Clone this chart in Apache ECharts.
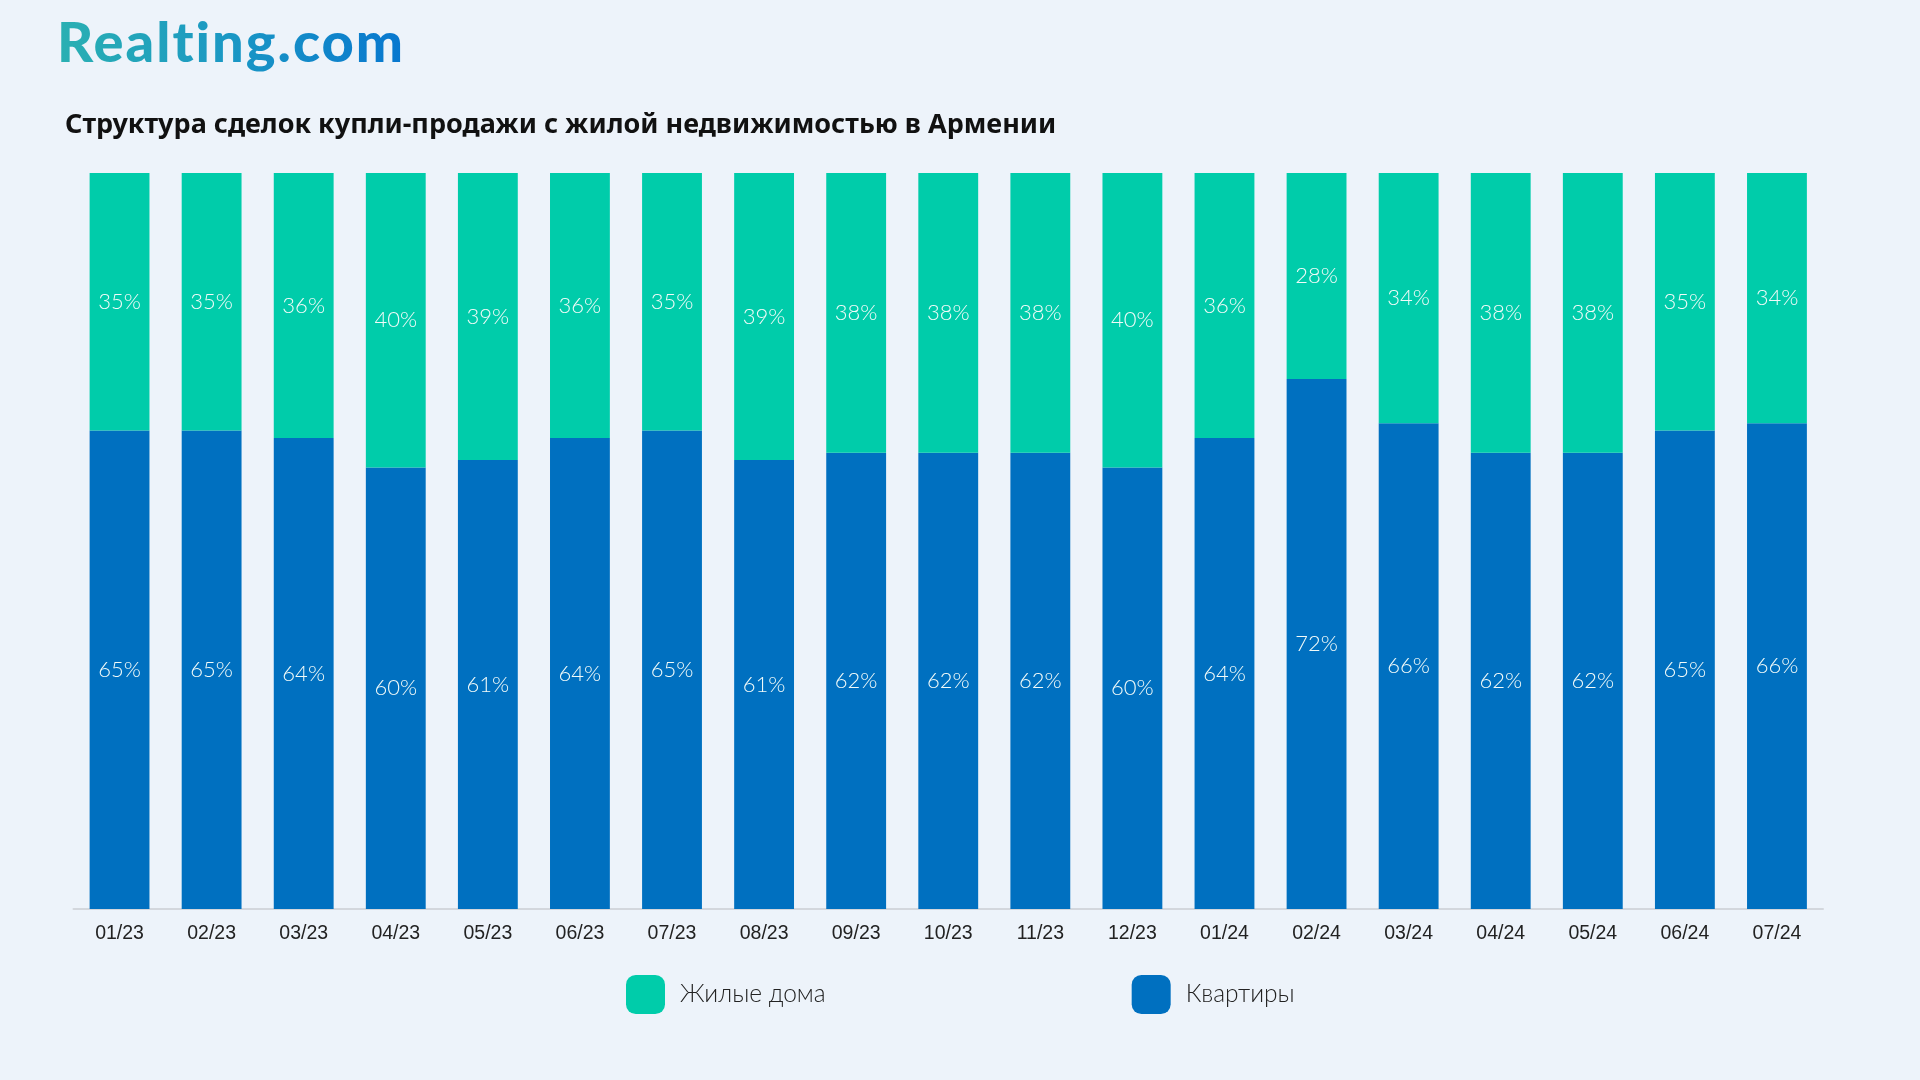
<!DOCTYPE html>
<html>
<head>
<meta charset="utf-8">
<script src="https://cdn.jsdelivr.net/npm/echarts@6/dist/echarts.min.js"></script>
<style>
html,body{margin:0;padding:0;background:#EDF3FA;}
#wrap{position:relative;width:1920px;height:1080px;}
#chart{width:1920px;height:1080px;}
#logo{position:absolute;left:57px;top:7px;font:900 56px Lato, "Noto Sans", sans-serif;letter-spacing:2px;
  background:linear-gradient(90deg,#2AB0B2 0%,#1A97C4 50%,#0877CF 100%);-webkit-background-clip:text;background-clip:text;color:transparent;}
</style>
</head>
<body>
<div id="wrap">
<div id="chart"></div>
<div id="logo">Realting.com</div>
</div>
<script>
const categories = ['01/23','02/23','03/23','04/23','05/23','06/23','07/23','08/23','09/23','10/23','11/23','12/23','01/24','02/24','03/24','04/24','05/24','06/24','07/24'];
const apartments = [65,65,64,60,61,64,65,61,62,62,62,60,64,72,66,62,62,65,66];
const houses = [35,35,36,40,39,36,35,39,38,38,38,40,36,28,34,38,38,35,34];
const titleText = 'Структура сделок купли-продажи с жилой недвижимостью в Армении';

const chart = echarts.init(document.getElementById('chart'));
const labelStyle = {
  show: true,
  position: 'inside',
  formatter: '{c}%',
  color: '#F2FBF9',
  fontSize: 22,
  fontFamily: 'Lato, sans-serif',
  fontWeight: 300
};
chart.setOption({
  backgroundColor: '#EDF3FA',
  animation: false,
  title: {
    text: titleText,
    left: 60,
    top: 107,
    textStyle: {fontFamily: '"Noto Sans", sans-serif', fontWeight: 'bold', fontSize: 27, color: '#111'}
  },
  legend: {
    data: ['Жилые дома', 'Квартиры'],
    left: 621,
    top: 970,
    itemWidth: 39,
    itemHeight: 39,
    itemGap: 306,
    icon: 'roundRect',
    textStyle: {fontSize: 24.5, color: '#222', fontFamily: 'Lato, sans-serif', fontWeight: 300, padding: [0,0,0,10]}
  },
  grid: {left: 73.5, right: 97, top: 173, bottom: 171},
  xAxis: {
    type: 'category',
    data: categories,
    axisLine: {lineStyle: {color: '#D3D7DD', width: 2}},
    axisTick: {show: false},
    axisLabel: {color: '#222', fontSize: 19.5, fontFamily: '"Liberation Sans", Arial, sans-serif', margin: 15}
  },
  yAxis: {
    type: 'value',
    min: 0,
    max: 100,
    show: false,
    splitLine: {show: false}
  },
  series: [
    {
      name: 'Квартиры',
      type: 'bar',
      stack: 'total',
      data: apartments,
      barWidth: '65%',
      itemStyle: {color: '#0070C0'},
      label: labelStyle
    },
    {
      name: 'Жилые дома',
      type: 'bar',
      stack: 'total',
      data: houses,
      barWidth: '65%',
      itemStyle: {color: '#00CCAA'},
      label: labelStyle
    }
  ]
});
</script>
</body>
</html>
